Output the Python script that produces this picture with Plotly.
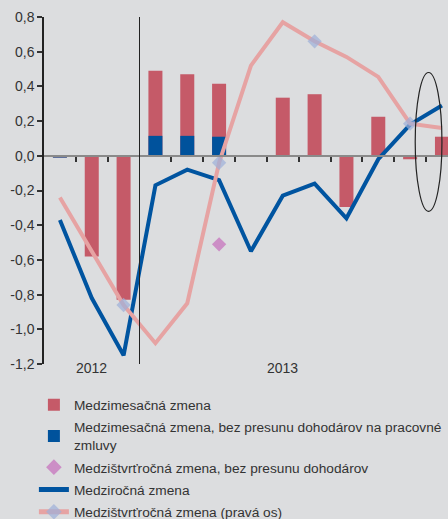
import plotly.graph_objects as go

# ---- data ----
months = ["10/2012", "11/2012", "12/2012", "1/2013", "2/2013", "3/2013", "4/2013",
          "5/2013", "6/2013", "7/2013", "8/2013", "9/2013", "10/2013"]
mom = [-0.01, -0.58, -0.83, 0.49, 0.47, 0.415, 0.0, 0.335, 0.355, -0.295, 0.225, -0.02, 0.11]
mom_excl = [-0.01, None, None, 0.115, 0.115, 0.11, None, None, None, None, None, None, None]
qoq_excl = [None, None, None, None, None, -0.51, None, None, None, None, None, None, None]
yoy = [-0.37, -0.82, -1.15, -0.17, -0.08, -0.14, -0.55, -0.23, -0.16, -0.36, -0.02, 0.18, 0.29]
qoq = [-0.24, -0.55, -0.86, -1.08, -0.85, -0.04, 0.52, 0.77, 0.66, 0.57, 0.455, 0.185, 0.16]
qoq_marker = [0, 0, 1, 0, 0, 1, 0, 0, 1, 0, 0, 1, 0]  # quarter-end points shown with diamonds

y_ticks = [0.8, 0.6, 0.4, 0.2, 0.0, -0.2, -0.4, -0.6, -0.8, -1.0, -1.2]
y_tick_labels = ["0,8", "0,6", "0,4", "0,2", "0,0", "-0,2", "-0,4", "-0,6", "-0,8", "-1,0", "-1,2"]
years = ["2012", "2013"]
year_pos = [1, 7]
year_split = 2.5
highlight = dict(x0=11.16, x1=12.0, y0=-0.32, y1=0.48)

names = ["Medzimesačná zmena",
         "Medzimesačná zmena, bez presunu dohodárov na pracovné<br>zmluvy",
         "Medzištvrťročná zmena, bez presunu dohodárov",
         "Medziročná zmena",
         "Medzištvrťročná zmena (pravá os)"]

x = list(range(len(months)))
Y_RANGE = [-1.2, 0.8]
X_RANGE = [-0.5, 12.19]
FONT = "Liberation Sans"
BG = "#dcdddf"

fig = go.Figure()
fig.add_trace(go.Bar(x=x, y=mom, name=names[0], marker=dict(color="#c55a68", line=dict(width=0)),
                     width=0.44, legendrank=1, legendgroup="g1", hovertext=months))
fig.add_trace(go.Bar(x=x, y=mom_excl, name=names[1], marker=dict(color="#00529c", line=dict(width=0)),
                     width=0.44, legendrank=2, legendgroup="g2", hovertext=months))
fig.add_trace(go.Scatter(x=x, y=yoy, name=names[3], mode="lines",
                         line=dict(color="#0054a0", width=4), legendrank=4, legendgroup="g4",
                         hovertext=months))
fig.add_trace(go.Scatter(x=x, y=qoq_excl, name=names[2], mode="markers",
                         marker=dict(symbol="diamond", color="#cc8ec6", size=11), legendrank=3,
                         legendgroup="g3", hovertext=months))
fig.add_trace(go.Scatter(x=x, y=qoq, name=names[4], mode="lines+markers", yaxis="y2",
                         line=dict(color="#e6a3a3", width=4),
                         marker=dict(symbol="diamond", color="#9dafd9",
                                     size=[11 * m for m in qoq_marker], line=dict(width=0)),
                         legendrank=5, legendgroup="g5", hovertext=months))

zero_pos = (0 - Y_RANGE[0]) / (Y_RANGE[1] - Y_RANGE[0])

fig.update_layout(
    width=448, height=519,
    paper_bgcolor=BG, plot_bgcolor=BG,
    margin=dict(l=44, r=0, t=17, b=155, autoexpand=False),
    barmode="overlay",
    font=dict(family=FONT, size=14, color="#333333"),
    showlegend=True,
    legend=dict(x=-0.025, y=-0.073, xanchor="left", yanchor="top", traceorder="grouped",
                bgcolor="rgba(0,0,0,0)", font=dict(size=13.7, color="#333333"),
                itemsizing="constant", tracegroupgap=1.5),
    xaxis=dict(range=X_RANGE, anchor="free", position=zero_pos,
               showline=True, linecolor="#8a8a8a", linewidth=2,
               tickmode="array", tickvals=[i + 0.5 for i in range(12) if i + 0.5 != year_split],
               ticks="outside", ticklen=5, tickwidth=1.5, tickcolor="#333333",
               showticklabels=False, showgrid=False, zeroline=False),
    yaxis=dict(range=Y_RANGE, tickmode="array", tickvals=y_ticks, ticktext=y_tick_labels,
               showline=True, linecolor="#222222", linewidth=1.5,
               ticks="outside", ticklen=5, tickwidth=1.5, tickcolor="#333333",
               showgrid=False, zeroline=False, tickfont=dict(size=14, color="#333333")),
    yaxis2=dict(range=Y_RANGE, overlaying="y", side="right", visible=False),
)

fig.add_shape(type="line", xref="x", yref="paper", x0=year_split, x1=year_split, y0=0, y1=1,
              line=dict(color="#222222", width=1))
fig.add_shape(type="circle", xref="x", yref="y", line=dict(color="#222222", width=1.2),
              **highlight)
for yr, pos in zip(years, year_pos):
    fig.add_annotation(text=yr, x=pos, y=0, xref="x", yref="paper", yshift=-14,
                       showarrow=False, font=dict(size=14, color="#333333"))

fig.write_html("out.html", config={"displayModeBar": False},
               post_script="document.body.style.margin='0';document.body.style.overflow='hidden';")
